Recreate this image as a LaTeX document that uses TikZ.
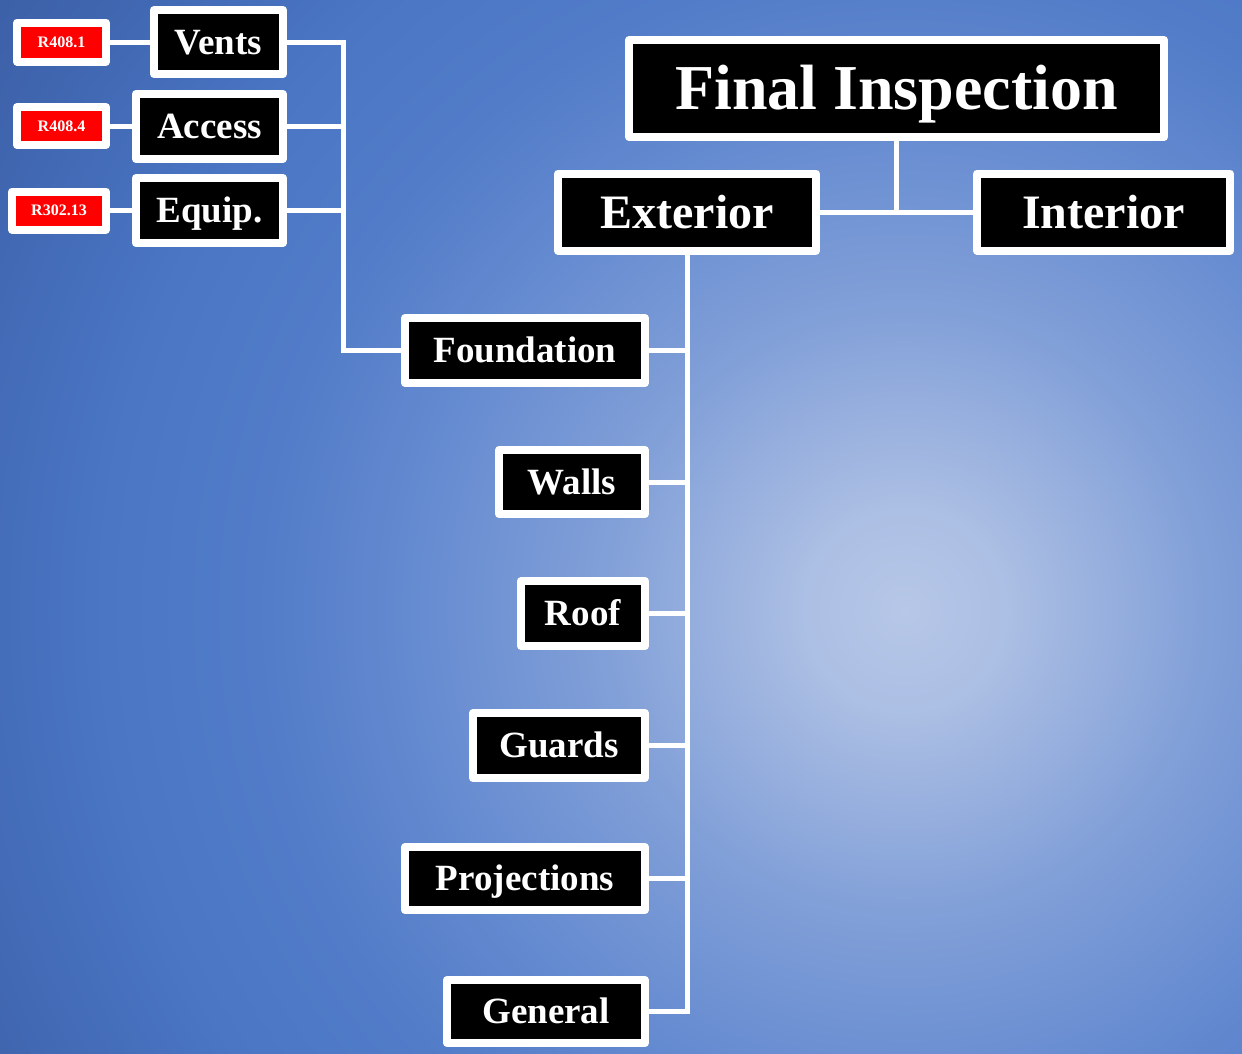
\documentclass[tikz,border=0pt]{standalone}
\usepackage{fontspec}
\setmainfont{Liberation Serif}
\usetikzlibrary{calc}

\definecolor{glowA}{RGB}{182,199,231}
\definecolor{glowB}{RGB}{172,191,228}
\definecolor{glowC}{RGB}{130,160,216}
\definecolor{glowD}{RGB}{100,138,208}
\definecolor{glowE}{RGB}{82,124,200}
\definecolor{glowF}{RGB}{74,118,196}
\definecolor{glowG}{RGB}{64,102,176}
\definecolor{glowH}{RGB}{60,96,166}
\definecolor{tagred}{RGB}{255,0,0}

% radial glow: 25bp corresponds to the circle radius
\pgfdeclareradialshading{bgglow}{\pgfpoint{0bp}{0bp}}{%
  color(0bp)=(glowA); color(2.1bp)=(glowB); color(6.25bp)=(glowC);
  color(10.4bp)=(glowD); color(13.5bp)=(glowE); color(16.7bp)=(glowF);
  color(20.8bp)=(glowG); color(23bp)=(glowH); color(50bp)=(glowH)}

\tikzset{
  box/.style={draw=white, fill=black, line width=8pt, line join=round,
    inner sep=0pt, text=white, text depth=0pt},
  huge label/.style={box, font=\bfseries\fontsize{64pt}{64pt}\selectfont, text height=42pt},
  large label/.style={box, font=\bfseries\fontsize{48pt}{48pt}\selectfont, text height=32pt},
  mid label/.style={box, font=\bfseries\fontsize{37pt}{37pt}\selectfont, text height=24.5pt},
  code tag/.style={box, fill=tagred, font=\bfseries\fontsize{16pt}{16pt}\selectfont, text height=10.6pt},
  wire/.style={draw=white, line width=5pt},
}

\begin{document}
\begin{tikzpicture}[x=1pt, y=-1pt]
\useasboundingbox (0,0) rectangle (1242,1053);

% background glow
\begin{scope}
  \clip (0,0) rectangle (1242,1053);
  \fill[glowH] (0,0) rectangle (1242,1053);
  \shade[shading=bgglow] (905,610) circle (1200pt);
\end{scope}

% top level
\node[huge label, minimum width=535pt, minimum height=97pt] (fin) at (896.5,88.5) {Final Inspection};
\node[large label, minimum width=258pt, minimum height=77pt] (ext) at (687,212) {Exterior};
\node[large label, minimum width=253pt, minimum height=77pt] (int) at (1103.5,212) {Interior};

% exterior items
\node[mid label, minimum width=240pt, minimum height=65pt] (found) at (525,350.5) {Foundation};
\node[mid label, minimum width=146pt, minimum height=64pt] (walls) at (572,482) {Walls};
\node[mid label, minimum width=124pt, minimum height=65pt] (roof) at (583,613.5) {Roof};
\node[mid label, minimum width=172pt, minimum height=65pt] (guards) at (559,745.5) {Guards};
\node[mid label, minimum width=240pt, minimum height=63pt] (proj) at (525,878.5) {Projections};
\node[mid label, minimum width=198pt, minimum height=63pt] (general) at (546,1011.5) {General};

% foundation items
\node[mid label, minimum width=129pt, minimum height=64pt] (vents) at (218.5,42) {Vents};
\node[mid label, minimum width=147pt, minimum height=65pt] (access) at (209.5,126.5) {Access};
\node[mid label, minimum width=147pt, minimum height=65pt] (equip) at (209.5,210.5) {Equip.};

% code references
\node[code tag, minimum width=89pt, minimum height=39pt] (r1) at (61.5,42) {R408.1};
\node[code tag, minimum width=89pt, minimum height=38pt] (r2) at (61.5,126) {R408.4};
\node[code tag, minimum width=94pt, minimum height=38pt] (r3) at (59,210.5) {R302.13};

% connectors
\draw[wire] (fin.south) -- (fin.south |- ext.east);
\draw[wire] (ext.east) -- (int.west);
\foreach \c in {found,walls,roof,guards,proj,general}
  \draw[wire] (ext.south) |- (\c.east);

\coordinate (bus) at (343,42);
\draw[wire] (vents.east) -- (bus) |- (found.west);
\draw[wire] (access.east) -- (access.east -| bus);
\draw[wire] (equip.east) -- (equip.east -| bus);

\draw[wire] (r1.east) -- (r1.east -| vents.west);
\draw[wire] (r2.east) -- (r2.east -| access.west);
\draw[wire] (r3.east) -- (r3.east -| equip.west);
\end{tikzpicture}
\end{document}
